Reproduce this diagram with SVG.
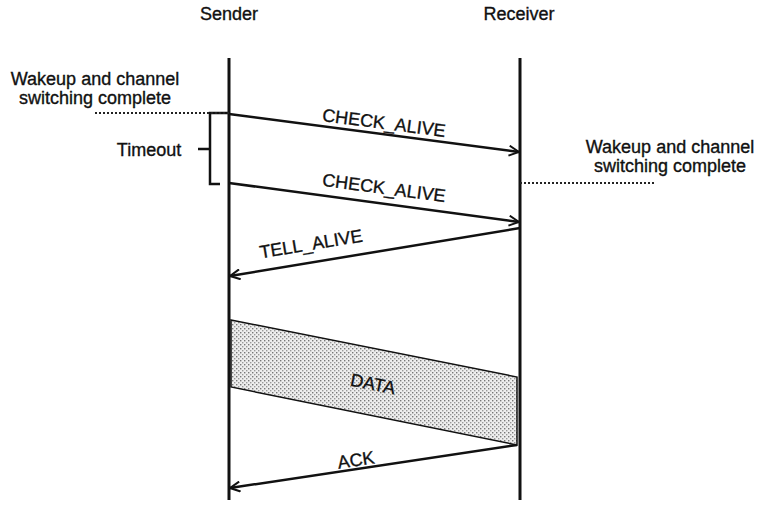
<svg xmlns="http://www.w3.org/2000/svg" width="764" height="517" viewBox="0 0 764 517">
<style>
text{font-family:"Liberation Sans",Arial,sans-serif;font-size:18px;fill:#111;stroke:#111;stroke-width:0.35}
.life{stroke:#111;stroke-width:3;fill:none}
.msg{stroke:#111;stroke-width:2.5;fill:none}
.dot{stroke:#222;stroke-width:2;stroke-dasharray:2 2;fill:none}
</style>
<defs>
<marker id="ah" viewBox="0 0 12 12" refX="11" refY="6" markerWidth="12" markerHeight="12" markerUnits="userSpaceOnUse" orient="auto">
<path d="M1,1 L11,6 L1,11" fill="none" stroke="#111" stroke-width="2"/>
</marker>
<pattern id="stip" width="4" height="4" patternUnits="userSpaceOnUse">
<rect width="4" height="4" fill="#eee"/>
<rect x="0" y="0" width="1.4" height="1.4" fill="#777"/>
<rect x="2" y="2" width="1.4" height="1.4" fill="#999"/>
</pattern>
</defs>
<g id="sender"><text x="229" y="20" text-anchor="middle">Sender</text><line class="life" x1="229" y1="58" x2="229" y2="500"/></g>
<g id="receiver"><text x="519" y="20" text-anchor="middle">Receiver</text><line class="life" x1="520" y1="58" x2="520" y2="500"/></g>
<g id="wakeup-left"><text x="95" y="85" text-anchor="middle">Wakeup and channel</text><text x="95" y="104" text-anchor="middle">switching complete</text></g>
<g id="wakeup-right"><text x="670" y="153" text-anchor="middle">Wakeup and channel</text><text x="670" y="172" text-anchor="middle">switching complete</text></g>
<g id="timeout"><text x="149" y="156" text-anchor="middle">Timeout</text><path d="M229,113 H210 V184 H220 M198,149 H210" stroke="#111" stroke-width="2.5" fill="none"/></g>
<g id="data"><polygon points="231,320 517,377 517,445 231,387" fill="url(#stip)" stroke="#111" stroke-width="1.5"/><text x="373" y="390" text-anchor="middle" transform="rotate(11.3 373 384)">DATA</text></g>
<g id="connectors">
<line class="dot" x1="95" y1="113" x2="229" y2="113"/>
<line class="dot" x1="520" y1="183" x2="655" y2="183"/>
<line class="msg" x1="229" y1="114" x2="519" y2="152" marker-end="url(#ah)"/>
<line class="msg" x1="229" y1="183" x2="519" y2="222" marker-end="url(#ah)"/>
<line class="msg" x1="520" y1="228" x2="230" y2="276" marker-end="url(#ah)"/>
<line class="msg" x1="517" y1="445" x2="230" y2="488" marker-end="url(#ah)"/>
<text x="384" y="129" text-anchor="middle" transform="rotate(7.4 384 123)">CHECK_ALIVE</text>
<text x="384" y="194" text-anchor="middle" transform="rotate(7.6 384 188)">CHECK_ALIVE</text>
<text x="311" y="250" text-anchor="middle" transform="rotate(-9.4 311 244)">TELL_ALIVE</text>
<text x="356" y="466" text-anchor="middle" transform="rotate(-8.5 356 460)">ACK</text>
</g>
</svg>
